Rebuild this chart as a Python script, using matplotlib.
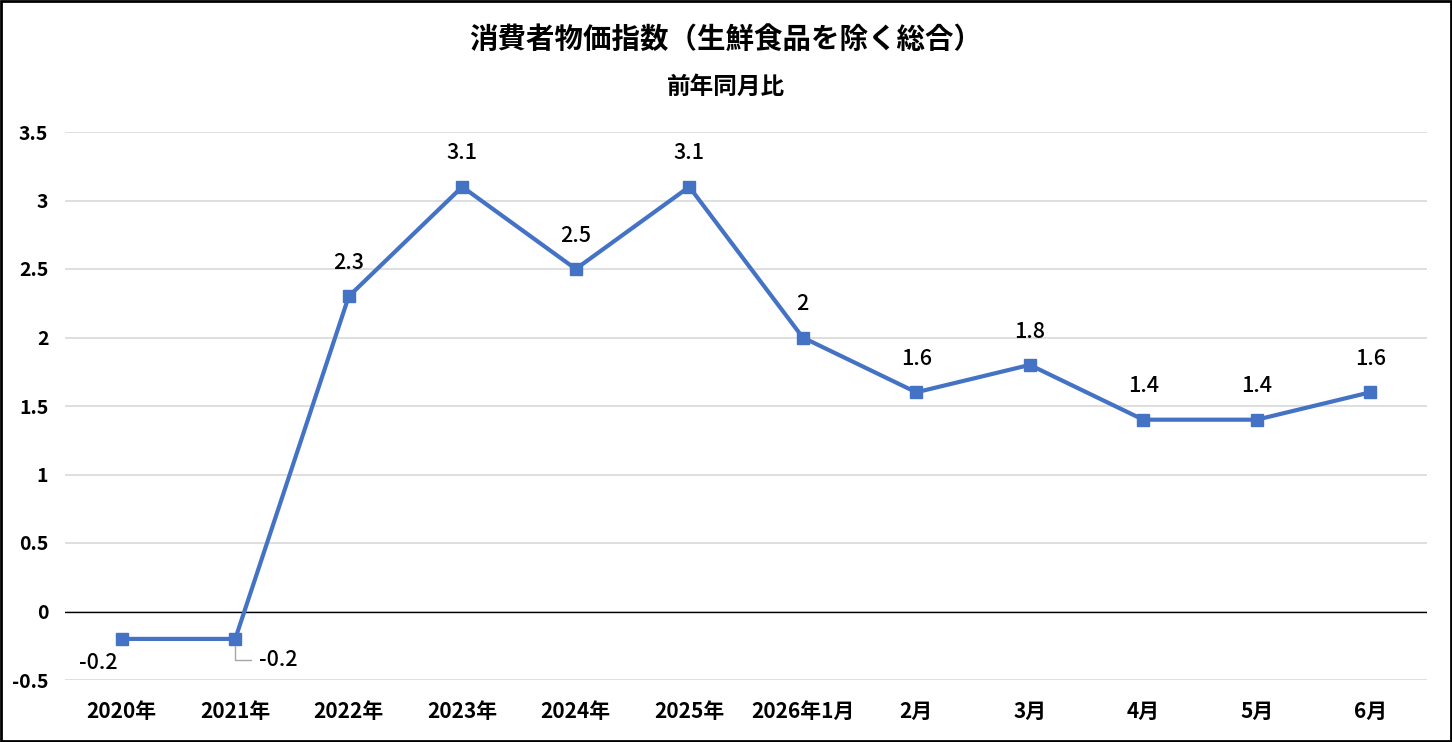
import matplotlib
matplotlib.use("Agg")
import matplotlib.pyplot as plt
from matplotlib.patches import Rectangle

plt.rcParams['font.family'] = ['Noto Sans CJK JP', 'DejaVu Sans']

# data
categories = ["2020年", "2021年", "2022年", "2023年", "2024年", "2025年",
              "2026年1月", "2月", "3月", "4月", "5月", "6月"]
values = [-0.2, -0.2, 2.3, 3.1, 2.5, 3.1, 2.0, 1.6, 1.8, 1.4, 1.4, 1.6]
labels = ["-0.2", "-0.2", "2.3", "3.1", "2.5", "3.1", "2", "1.6", "1.8", "1.4", "1.4", "1.6"]
yticks = [-0.5, 0, 0.5, 1, 1.5, 2, 2.5, 3, 3.5]
ytick_labels = ["-0.5", "0", "0.5", "1", "1.5", "2", "2.5", "3", "3.5"]

title = "消費者物価指数（生鮮食品を除く総合）"
subtitle = "前年同月比"

fig = plt.figure(figsize=(14.52, 7.42), dpi=100)
ax = fig.add_axes([65 / 1452, 62 / 742, 1362 / 1452, 548 / 742])

x = list(range(len(categories)))
ax.plot(x, values, color="#4472C4", linewidth=3, marker="s", markersize=8, zorder=3)

# data labels
for i, (v, s) in enumerate(zip(values, labels)):
    if i == 0:
        ax.annotate(s, (i, v), xytext=(-17, -17), textcoords="offset points",
                    ha="center", va="center", fontsize=15.5, fontweight="medium")
    elif i == 1:
        # label pushed aside with a leader line
        ax.annotate(s, (i, v), xytext=(31, -15), textcoords="offset points",
                    ha="center", va="center", fontsize=15.5, fontweight="medium",
                    arrowprops=dict(arrowstyle="-", color="#A6A6A6", lw=1,
                                    connectionstyle="angle,angleA=0,angleB=90,rad=0",
                                    relpos=(0, 0.5), shrinkA=4, shrinkB=5))
    else:
        ax.annotate(s, (i, v), xytext=(0, 24), textcoords="offset points",
                    ha="center", va="center", fontsize=15.5, fontweight="medium")

ax.set_xlim(-0.5, len(categories) - 0.5)
ax.set_ylim(-0.5, 3.5)
ax.set_yticks(yticks)
ax.set_yticklabels(ytick_labels, fontsize=14, fontweight="bold")
ax.set_xticks(x)
ax.set_xticklabels(categories, fontsize=15, fontweight="bold")
ax.tick_params(axis="both", length=0)
ax.tick_params(axis="x", pad=15)
ax.tick_params(axis="y", pad=12)

ax.grid(axis="y", color="#D9D9D9", linewidth=1.2)
ax.axhline(0, color="black", linewidth=1, zorder=2)
for sp in ax.spines.values():
    sp.set_visible(False)
ax.set_axisbelow(True)

fig.text(0.5, 1 - 40 / 742, title, ha="center", va="center", fontsize=20.5, fontweight="bold")
fig.text(0.5, 1 - 87 / 742, subtitle, ha="center", va="center", fontsize=17, fontweight="bold")

fig.patches.append(Rectangle((0.001, 0.002), 0.998, 0.996, transform=fig.transFigure,
                             fill=False, edgecolor="black", linewidth=2))

fig.savefig("out.png", dpi=100)
